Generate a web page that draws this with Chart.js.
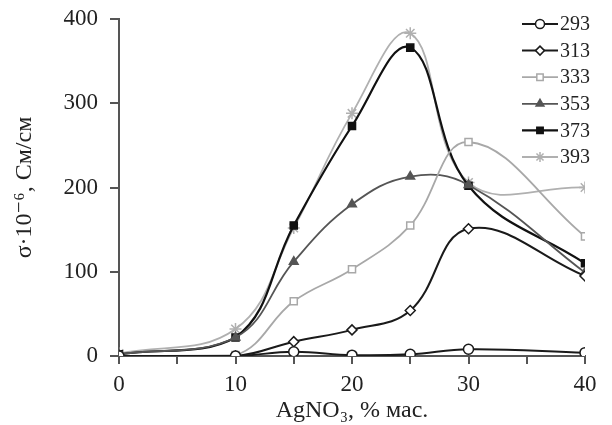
<!DOCTYPE html>
<html>
<head>
<meta charset="utf-8">
<script src="https://cdn.jsdelivr.net/npm/chart.js@4/dist/chart.umd.min.js"></script>
<style>
  html, body { margin: 0; padding: 0; background: #fff; }
  #wrap { position: relative; width: 612px; height: 425px; }
</style>
</head>
<body>
<div id="wrap"><canvas id="chart" width="612" height="425"></canvas></div>
<script>
// AgNO3 content, % mass
const concentrations = [0, 10, 15, 20, 25, 30, 40];
const temperatures = ["293", "313", "333", "353", "373", "393"];

// conductivity sigma * 10^-6, S/cm
const sigma293 = [0, 0, 5, 1, 2, 8, 4];
const sigma313 = [0, 0, 17, 31, 54, 151, 95];
const sigma333 = [0, 1, 65, 103, 155, 254, 142];
const sigma353 = [2, 22, 112, 180, 213, 203, 99];
const sigma373 = [2, 22, 155, 273, 366, 202, 110];
const sigma393 = [3, 32, 152, 288, 383, 206, 200];

const yTicks = [0, 100, 200, 300, 400];

const serif = "'Liberation Serif', 'DejaVu Serif', serif";

const styles = [
  { color: "#1a1a1a", point: "circle", fill: "#fff", width: 2 },
  { color: "#1a1a1a", point: "rectRot", fill: "#fff", width: 2 },
  { color: "#a8a8a8", point: "rect", fill: "#fff", width: 1.8 },
  { color: "#555555", point: "triangle", fill: "#555555", width: 1.8 },
  { color: "#111111", point: "rect", fill: "#111111", width: 2.2 },
  { color: "#b0b0b0", point: "star", fill: "#b0b0b0", width: 1.8 }
];

const series = [sigma293, sigma313, sigma333, sigma353, sigma373, sigma393];

const datasets = series.map((vals, i) => ({
  label: temperatures[i],
  data: concentrations.map((c, j) => ({ x: c, y: vals[j] })),
  borderColor: styles[i].color,
  borderWidth: styles[i].width,
  backgroundColor: styles[i].fill,
  pointBackgroundColor: styles[i].fill,
  pointBorderColor: styles[i].color,
  pointBorderWidth: 1.5,
  pointStyle: styles[i].point,
  pointRadius: styles[i].point === "star" ? 6 : 5,
  tension: 0.4,
  fill: false
}));

// legend drawn as line + marker + label, like the original
const lineLegend = {
  id: "lineLegend",
  afterDatasetsDraw(chart) {
    const ctx = chart.ctx;
    const x0 = 522, x1 = 558, top = 24, step = 26.6;
    ctx.save();
    chart.data.datasets.forEach((ds, i) => {
      const y = top + i * step;
      ctx.strokeStyle = ds.borderColor;
      ctx.lineWidth = ds.borderWidth;
      ctx.beginPath();
      ctx.moveTo(x0, y);
      ctx.lineTo(x1, y);
      ctx.stroke();
      ctx.fillStyle = ds.pointBackgroundColor;
      ctx.strokeStyle = ds.pointBorderColor;
      ctx.lineWidth = ds.pointBorderWidth;
      if (Chart.helpers && Chart.helpers.drawPoint) {
        Chart.helpers.drawPoint(ctx, {
          pointStyle: ds.pointStyle,
          radius: ds.pointStyle === "star" ? 5 : 4.5,
          rotation: 0,
          borderWidth: ds.pointBorderWidth
        }, (x0 + x1) / 2, y);
      }
      ctx.fillStyle = "#222";
      ctx.font = "20px " + serif;
      ctx.textAlign = "left";
      ctx.textBaseline = "middle";
      ctx.fillText(ds.label, x1 + 2, y + 1);
    });
    ctx.restore();
  }
};

new Chart(document.getElementById("chart"), {
  type: "line",
  data: { datasets: datasets },
  options: {
    responsive: false,
    animation: false,
    layout: { padding: { top: 19, right: 27, left: 0, bottom: 0 } },
    plugins: {
      legend: { display: false },
      tooltip: { enabled: false }
    },
    scales: {
      x: {
        type: "linear",
        min: 0,
        max: 40,
        afterFit: (s) => { s.height = 69; s.paddingRight = 0; s.paddingLeft = 0; },
        ticks: {
          stepSize: 5,
          color: "#222",
          font: { family: serif, size: 23 },
          padding: 7,
          maxRotation: 0,
          callback: (v) => (v % 10 === 0 ? v : "")
        },
        grid: { drawOnChartArea: false, drawTicks: true, tickLength: 8, color: "#555", lineWidth: 2 },
        border: { display: true, color: "#555", width: 2 },
        title: {
          display: true,
          text: "AgNO₃, % мас.",
          color: "#222",
          font: { family: serif, size: 24 },
          padding: { top: 0, bottom: 0 }
        }
      },
      y: {
        min: 0,
        max: 400,
        afterFit: (s) => { s.width = 119; s.paddingTop = 0; s.paddingBottom = 0; },
        afterBuildTicks: (s) => { s.ticks = yTicks.map((v) => ({ value: v })); },
        ticks: {
          color: "#222",
          font: { family: serif, size: 23 },
          padding: 12
        },
        grid: { drawOnChartArea: false, drawTicks: true, tickLength: 9, color: "#555", lineWidth: 2 },
        border: { display: true, color: "#555", width: 2 },
        title: {
          display: true,
          text: "σ·10⁻⁶, См/см",
          color: "#222",
          font: { family: serif, size: 24 },
          padding: { top: 10, bottom: 0 }
        }
      }
    }
  },
  plugins: [lineLegend]
});
</script>
</body>
</html>
